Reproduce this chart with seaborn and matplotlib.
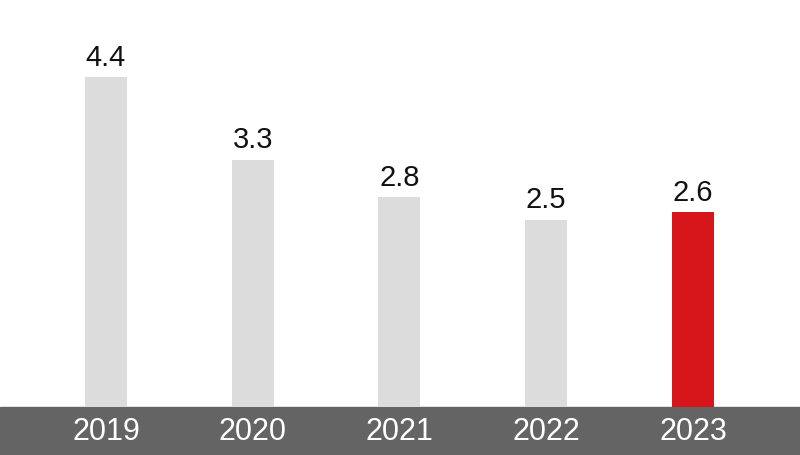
import pandas as pd
import matplotlib.pyplot as plt
import seaborn as sns

sns.set_theme(style="white")
plt.rcParams["font.family"] = ["Liberation Sans", "DejaVu Sans"]

# Chart data
years = ["2019", "2020", "2021", "2022", "2023"]
values = [4.4, 3.3, 2.8, 2.5, 2.6]
colors = ["#dcdcdd", "#dcdcdd", "#dcdcdd", "#dcdcdd", "#d7161b"]

df = pd.DataFrame({"year": years, "value": values})

fig = plt.figure(figsize=(8, 4.56), dpi=100)
ax = fig.add_axes([0, 0, 1, 1])

sns.barplot(data=df, x="year", y="value", hue="year", palette=colors,
            width=0.286, legend=False, saturation=1, linewidth=0, ax=ax)

# dark band at the bottom with year labels
ax.set_xlim(-0.722, 4.729)
ax.set_ylim(-0.64, 5.44)
ax.axhspan(-0.64, 0, color="#646464", zorder=0)

for i, (yr, v) in enumerate(zip(years, values)):
    ax.text(i, v + 0.16, f"{v:.1f}", ha="center", va="baseline",
            fontsize=21, color="#111111")
    ax.text(i, -0.325, yr, ha="center", va="center",
            fontsize=22, color="white")

ax.axis("off")
fig.savefig("out.png", dpi=100)
